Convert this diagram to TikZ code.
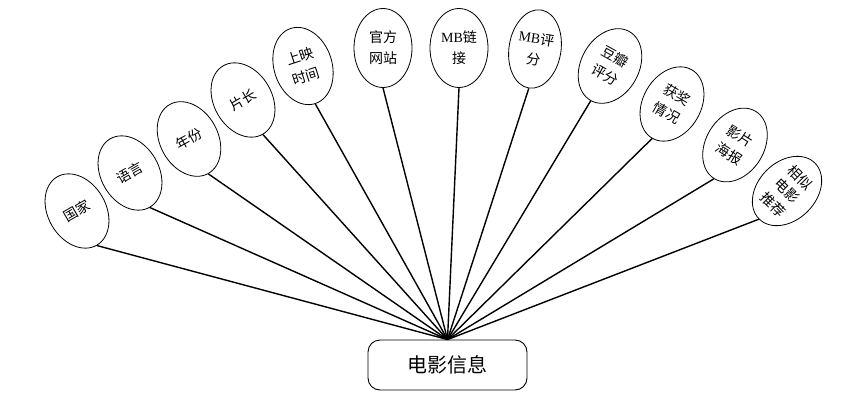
\documentclass[tikz,border=0pt]{standalone}
\usepackage{fontspec}
\newfontfamily\cjk{Noto Sans CJK SC}
\newfontfamily\latinserif{Liberation Serif}
\usetikzlibrary{shapes.geometric}
\tikzset{
  attr/.style={ellipse, draw=black, line width=0.8pt, minimum width=58pt, minimum height=79pt,
    inner sep=0pt, align=center, font=\cjk\fontsize{14}{21}\selectfont},
  hubbox/.style={draw=black, line width=0.9pt, rounded corners=12pt, minimum width=159pt,
    minimum height=50pt, font=\cjk\fontsize{20}{24}\selectfont},
  link/.style={line width=1.4pt, black}
}
\begin{document}
\begin{tikzpicture}[x=1pt,y=-1pt]
\useasboundingbox (0,0) rectangle (851,406);
\node[hubbox] (hub) at (447.5,365) {电影信息};
\node[attr, rotate=30] (a1) at (77,211) {国家};
\node[attr, rotate=30] (a2) at (130,173) {语言};
\node[attr, rotate=29] (a3) at (189,139) {年份};
\node[attr, rotate=30] (a4) at (243,100) {片长};
\node[attr, rotate=18] (a5) at (303,66) {上映\\时间};
\node[attr, rotate=0] (a6) at (383,48) {官方\\网站};
\node[attr, rotate=0] (a7) at (459,48) {{\latinserif MB}链\\接};
\node[attr, rotate=-9, minimum width=52pt] (a8) at (535,49) {{\latinserif MB}评\\分};
\node[attr, rotate=-29] (a9) at (610,66) {豆瓣\\评分};
\node[attr, rotate=-30] (a10) at (672,104) {获奖\\情况};
\node[attr, rotate=-32] (a11) at (735,145) {影片\\海报};
\node[attr, rotate=-45, font=\cjk\fontsize{14}{19}\selectfont] (a12) at (787,191) {相似\\电影\\推荐};
\foreach \i in {1,...,12} {\draw[link] (hub.north) -- (a\i.south);}
\end{tikzpicture}
\end{document}
